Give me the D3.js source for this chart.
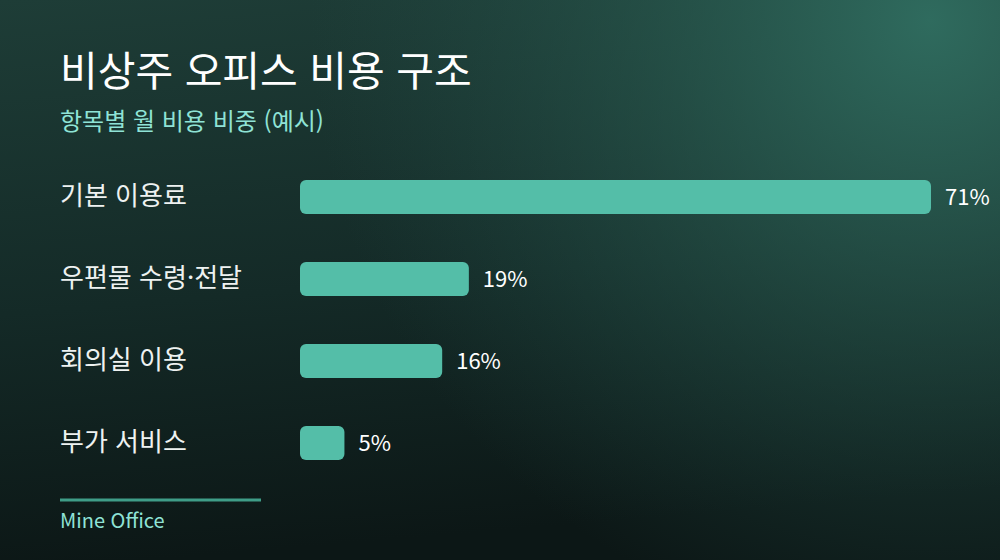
<!DOCTYPE html>
<html lang="ko">
<head>
<meta charset="utf-8">
<script src="https://cdn.jsdelivr.net/npm/d3@7/dist/d3.min.js"></script>
<style>
    html, body { margin: 0; padding: 0; background: #0f1c1b; }
    svg { display: block; font-family: "Noto Sans CJK KR", "Noto Sans", sans-serif; }
</style>
</head>
<body>
<div id="chart"></div>
<script>
const categories = ["기본 이용료", "우편물 수령·전달", "회의실 이용", "부가 서비스"];
const shares = [71, 19, 16, 5];
const title = "비상주 오피스 비용 구조";
const subtitle = "항목별 월 비용 비중 (예시)";
const footer = "Mine Office";

const W = 1000, H = 560;
const margin = { left: 300, right: 69, top: 180 };
const barH = 34, rowStep = 82;

const svg = d3.select("#chart").append("svg")
    .attr("width", W)
    .attr("height", H);

const defs = svg.append("defs");

// base: dark green at the top, near black at the bottom
const base = defs.append("linearGradient")
    .attr("id", "base")
    .attr("x1", 0).attr("y1", 0).attr("x2", 0.15).attr("y2", 1);
base.append("stop").attr("offset", "0%").attr("stop-color", "#1e3d37");
base.append("stop").attr("offset", "55%").attr("stop-color", "#142a27");
base.append("stop").attr("offset", "100%").attr("stop-color", "#0c1716");

// glow in the top right corner
const glow = defs.append("radialGradient")
    .attr("id", "glow")
    .attr("gradientUnits", "userSpaceOnUse")
    .attr("cx", 930).attr("cy", 20).attr("r", 620);
glow.append("stop").attr("offset", "0%").attr("stop-color", "#2f6b5e").attr("stop-opacity", 1);
glow.append("stop").attr("offset", "50%").attr("stop-color", "#2a5d52").attr("stop-opacity", 0.5);
glow.append("stop").attr("offset", "100%").attr("stop-color", "#24504a").attr("stop-opacity", 0);

svg.append("rect").attr("width", W).attr("height", H).attr("fill", "url(#base)");
svg.append("rect").attr("width", W).attr("height", H).attr("fill", "url(#glow)");

svg.append("text")
    .attr("x", 60).attr("y", 86)
    .attr("fill", "#ffffff")
    .attr("font-size", 41)
    .attr("font-weight", 400)
    .text(title);

svg.append("text")
    .attr("x", 60).attr("y", 130)
    .attr("fill", "#8fe3d6")
    .attr("font-size", 24)
    .text(subtitle);

const x = d3.scaleLinear()
    .domain([0, d3.max(shares)])
    .range([margin.left, W - margin.right]);

const y = d3.scaleBand()
    .domain(categories)
    .range([margin.top, margin.top + rowStep * (categories.length - 1) + barH])
    .paddingInner(1 - barH / rowStep)
    .paddingOuter(0);

const rows = svg.append("g").selectAll("g")
    .data(categories.map((c, i) => ({ name: c, value: shares[i] })))
    .join("g");

rows.append("rect")
    .attr("x", x(0))
    .attr("y", d => y(d.name))
    .attr("width", d => x(d.value) - x(0))
    .attr("height", y.bandwidth())
    .attr("rx", 6)
    .attr("fill", "#54bea8");

rows.append("text")
    .attr("x", 60)
    .attr("y", d => y(d.name) + y.bandwidth() / 2)
    .attr("dy", "0.3em")
    .attr("fill", "#eef2f1")
    .attr("font-size", 26)
    .text(d => d.name);

rows.append("text")
    .attr("x", d => x(d.value) + 14)
    .attr("y", d => y(d.name) + y.bandwidth() / 2)
    .attr("dy", "0.35em")
    .attr("fill", "#ffffff")
    .attr("font-size", 22)
    .text(d => d.value + "%");

svg.append("line")
    .attr("x1", 60).attr("x2", 261)
    .attr("y1", 500).attr("y2", 500)
    .attr("stroke", "#3f9d88")
    .attr("stroke-width", 3);

svg.append("text")
    .attr("x", 60).attr("y", 528)
    .attr("fill", "#8fe3d6")
    .attr("font-size", 20)
    .text(footer);
</script>
</body>
</html>
